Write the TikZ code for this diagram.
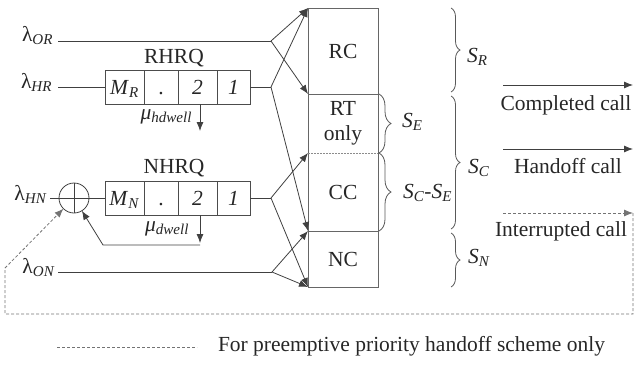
\documentclass[tikz,border=0pt]{standalone}
\usepackage{fontspec}
\setmainfont{Liberation Serif}
\usetikzlibrary{arrows.meta,decorations.pathreplacing,calc}
\newcommand\ital[2]{\textit{#1}\textsubscript{\textit{#2}}}
\newcommand\lam[1]{λ\textsubscript{\textit{#1}}}
\begin{document}
\begin{tikzpicture}[x=1pt,y=-1pt,
  every node/.style={font=\fontsize{21.5}{25}\selectfont, text=black!85, inner sep=0pt, outer sep=0pt},
  ln/.style={draw=black!75, line width=0.8pt},
  arr/.style={ln, -{Latex[length=9pt,width=7pt]}},
  dsh/.style={draw=black!55, line width=0.8pt, dash pattern=on 3pt off 2pt},
  darr/.style={dsh, -{Latex[length=9pt,width=7pt]}},
  boxln/.style={draw=black!60, line width=0.9pt},
  cellbox/.style={minimum width=70pt, align=center},
  qcell/.style={draw=black!70, line width=0.8pt, minimum height=34pt, text height=14pt, text depth=0pt},
  obrace/.style={draw=black!65, line width=0.8pt, decorate, decoration={brace, amplitude=9pt}},
  ibrace/.style={draw=black!65, line width=0.8pt, decorate, decoration={brace, amplitude=12pt}}
]
\useasboundingbox (0,0) rectangle (634,364);

% big column of cells
\node[cellbox, minimum height=86pt] (RC) at (343,51) {RC};
\node[cellbox, minimum height=59pt] (RT) at (343,123.5) {RT\\only};
\node[cellbox, minimum height=78pt] (CC) at (343,192) {CC};
\node[cellbox, minimum height=56pt] (NC) at (343,259) {NC};
\draw[boxln] (RC.north west) rectangle (NC.south east);
\draw[boxln] (RC.south west) -- (RC.south east);
\draw[draw=black!45, line width=0.9pt, dash pattern=on 1.5pt off 1.5pt] (RT.south west) -- (RT.south east);
\draw[boxln] (CC.south west) -- (CC.south east);

% RHRQ queue
\node[anchor=base] (RHRQ) at (174,63) {RHRQ};
\node[qcell, minimum width=39pt] (qR4) at (124.5,87) {\ital{M}{R}};
\node[qcell, minimum width=34pt] (qR3) at (161,87) {.};
\node[qcell, minimum width=39pt] (qR2) at (197.5,87) {\textit{2}};
\node[qcell, minimum width=33pt] (qR1) at (233.5,87) {\textit{1}};

% NHRQ queue
\node[anchor=base] (NHRQ) at (174,173) {NHRQ};
\node[qcell, minimum width=39pt] (qN4) at (124.5,198) {\ital{M}{N}};
\node[qcell, minimum width=34pt] (qN3) at (161,198) {.};
\node[qcell, minimum width=39pt] (qN2) at (197.5,198) {\textit{2}};
\node[qcell, minimum width=33pt] (qN1) at (233.5,198) {\textit{1}};

% input labels
\node[anchor=base east] (lOR) at (53,41) {\lam{OR}};
\node[anchor=base east] (lHR) at (52,88) {\lam{HR}};
\node[anchor=base east] (lHN) at (47,200) {\lam{HN}};
\node[anchor=base east] (lON) at (55,273) {\lam{ON}};

% service labels
\node[anchor=base east] (muRl) at (192,119) {\textit{μ}\textsubscript{\textit{hdwell}}};
\node[anchor=base east] (muNl) at (189,231) {\textit{μ}\textsubscript{\textit{dwell}}};

% adder
\node[circle, draw=black!75, line width=0.8pt, minimum size=30pt] (circ) at (74,198) {};
\draw[ln] (circ.north) -- (circ.south) (circ.west) -- (circ.east);

% connectors
\coordinate (inOR) at (58,41);
\coordinate (b1) at (271,41);
\draw[ln] (inOR) -- (b1);
\draw[arr] (b1) -- (RC.north west);
\draw[arr] (b1) -- (RC.south west);

\coordinate (inHR) at (58,87);
\coordinate (b2) at (271,87);
\draw[ln] (inHR) -- (qR4.west);
\draw[ln] (qR1.east) -- (b2);
\draw[arr] (b2) -- (RC.north west);
\draw[arr] (b2) -- (NC.north west);

\coordinate (inHN) at (50,198);
\coordinate (b3) at (271,198);
\draw[ln] (inHN) -- (circ.west);
\draw[ln] (circ.east) -- (qN4.west);
\draw[ln] (qN1.east) -- (b3);
\draw[arr] (b3) -- (CC.north west);
\draw[arr] (b3) -- (NC.south west);

\coordinate (inON) at (58,272);
\coordinate (b4) at (272,272);
\draw[ln] (inON) -- (b4);
\draw[arr] (b4) -- (NC.north west);
\draw[arr] (b4) -- (NC.south west);

% departures
\coordinate (muR) at (200,131);
\draw[arr] (qR2.south -| muR) -- (muR);
\coordinate (muN) at (200,243);
\draw[arr] (qN2.south -| muN) -- (muN);
\coordinate (fbA) at (200,245);
\coordinate (fbB) at (103,245);
\draw[arr] (fbA) -- (fbB) -- (circ);

% right side outputs
\coordinate (cA) at (503,85); \coordinate (cB) at (633,85);
\draw[arr] (cA) -- (cB);
\node[anchor=base] (tComp) at (566,110) {Completed call};
\coordinate (hA) at (503,149); \coordinate (hB) at (633,149);
\draw[arr] (hA) -- (hB);
\node[anchor=base] (tHand) at (568,173) {Handoff call};
\coordinate (iA) at (503,213); \coordinate (iB) at (633,213);
\draw[darr] (iA) -- (iB);
\node[anchor=base] (tInt) at (561,236) {Interrupted call};

% preemptive loop
\coordinate (dR) at (633,314);
\coordinate (dL) at (5,314);
\coordinate (dU) at (5,268);
\draw[darr] (iB) -- (dR) -- (dL) -- (dU) -- (circ);

% braces
\draw[ibrace] ([xshift=1pt]RT.north east) -- ([xshift=1pt]RT.south east);
\draw[ibrace] ([xshift=1pt]CC.north east) -- ([xshift=1pt]CC.south east);
\node[anchor=base west] (SE) at (402,127) {\ital{S}{E}};
\node[anchor=base west] (SCE) at (403,198) {\ital{S}{C}-\ital{S}{E}};
\draw[obrace] (451,8) -- (451,92);
\draw[obrace] (451,96) -- (451,229);
\draw[obrace] (451,233) -- (451,287);
\node[anchor=base west] (SR) at (467,62) {\ital{S}{R}};
\node[anchor=base west] (SC) at (468,173) {\ital{S}{C}};
\node[anchor=base west] (SN) at (468,263) {\ital{S}{N}};

% legend
\coordinate (legA) at (57,347); \coordinate (legB) at (197,347);
\draw[dsh] (legA) -- (legB);
\node[anchor=base west] (tLeg) at (218,351) {For preemptive priority handoff scheme only};
\end{tikzpicture}
\end{document}
